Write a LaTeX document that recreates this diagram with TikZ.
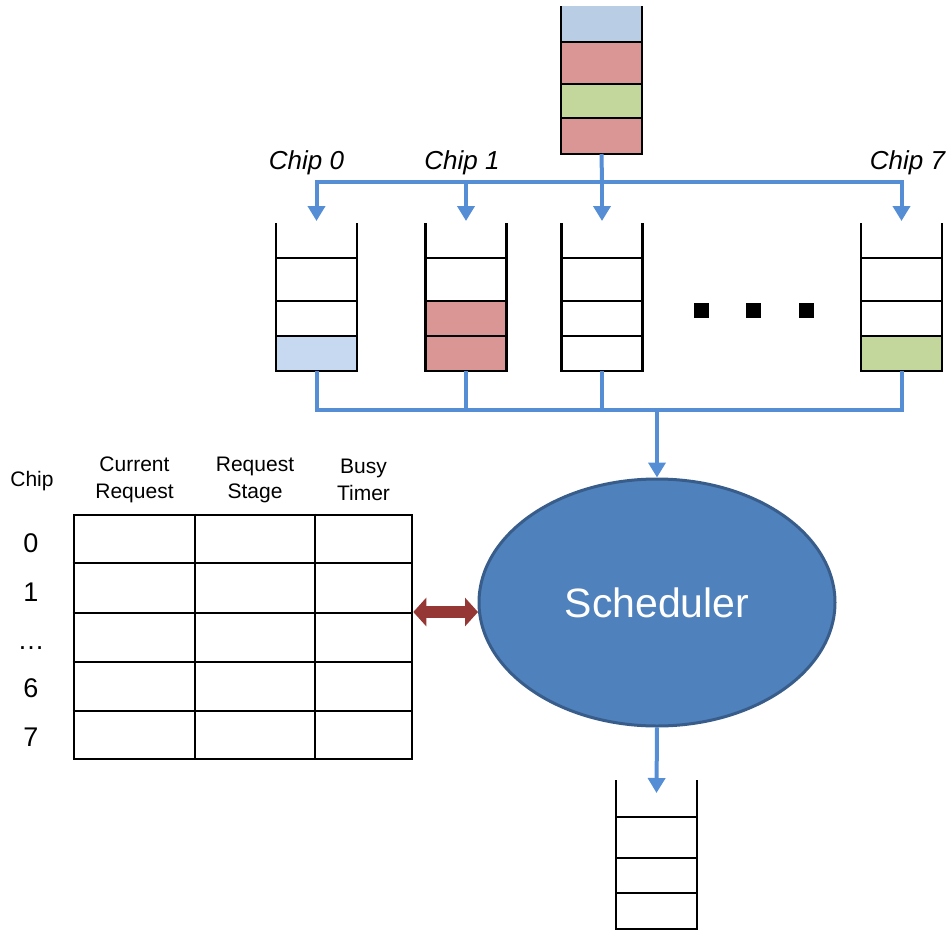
\documentclass[tikz,border=0pt]{standalone}
\usepackage{fontspec}
\setmainfont{Liberation Sans}
\usetikzlibrary{arrows.meta,shapes.geometric}
\definecolor{busblue}{HTML}{558ED5}
\definecolor{qblue}{HTML}{C6D9F1}
\definecolor{qbluetop}{HTML}{B9CDE5}
\definecolor{qred}{HTML}{D99694}
\definecolor{qgreen}{HTML}{C3D69B}
\definecolor{schedfill}{HTML}{4F81BD}
\definecolor{schededge}{HTML}{385D8A}
\definecolor{linkred}{HTML}{953735}
\tikzset{
  queuebox/.style={minimum width=81, minimum height=148, inner sep=0, outer sep=0},
  wall/.style={line width=2.6, black},
  bus/.style={line width=4, busblue},
  busarrow/.style={bus, -{Triangle[length=15,width=17]}, shorten >=2},
  dotsq/.style={fill=black, minimum size=15, inner sep=0},
  chiplabel/.style={font=\fontsize{26}{30}\selectfont\itshape, inner sep=0},
  hdr/.style={font=\fontsize{21}{27}\selectfont, align=center, inner sep=0},
  rowlbl/.style={font=\fontsize{27}{30}\selectfont, anchor=base, inner sep=0},
  grid/.style={line width=2.6, black},
}
\begin{document}
\begin{tikzpicture}[x=1pt, y=-1pt]
\useasboundingbox (0,0) rectangle (951,930);

% ---- incoming request queue ----
\node[queuebox] (src) at (601.5,80) {};
\fill[qbluetop] (561,6) rectangle (642,42);
\fill[qred]     (561,42) rectangle (642,84);
\fill[qgreen]   (561,84) rectangle (642,118);
\fill[qred]     (561,118) rectangle (642,154);
\draw[wall] (src.north west) -- (src.south west) -- (src.south east) -- (src.north east);
\foreach \yy in {42,84,118} \draw[wall] (src.west |- 0,\yy) -- (src.east |- 0,\yy);

% ---- per-chip queues ----
\node[queuebox] (q0) at (316.5,297) {};
\node[queuebox] (q1) at (466,297) {};
\node[queuebox] (q2) at (602,297) {};
\node[queuebox] (q7) at (901.5,297) {};
\fill[qblue]  (q0.west |- 0,336) rectangle (q0.south east);
\fill[qred]   (q1.west |- 0,301) rectangle (q1.south east);
\fill[qgreen] (q7.west |- 0,336) rectangle (q7.south east);
\foreach \q in {q0,q1,q2,q7}{
  \draw[wall] (\q.north west) -- (\q.south west) -- (\q.south east) -- (\q.north east);
  \foreach \yy in {258,301,336} \draw[wall] (\q.west |- 0,\yy) -- (\q.east |- 0,\yy);
}
\node[dotsq] (d1) at (701,310) {};
\node[dotsq] (d2) at (753,310) {};
\node[dotsq] (d3) at (806,310) {};

% chip labels
\node[chiplabel] (l0) at (306.5,163) {Chip 0};
\node[chiplabel] (l1) at (462,163) {Chip 1};
\node[chiplabel] (l7) at (907.5,163) {Chip 7};

% ---- distribution bus ----
\coordinate (busT) at (602,182);
\draw[bus] (src.south) -- (busT);
\draw[busarrow] (busT) -| (q0.north);
\draw[busarrow] (busT) -| (q7.north);
\draw[busarrow] (busT) -- (q2.north);
\draw[busarrow] (q1.north |- busT) -- (q1.north);

% ---- collection bus ----
\coordinate (busB) at (657,410);
\draw[bus] (q0.south) |- (busB) -| (q7.south);
\draw[bus] (q1.south) -- (q1.south |- busB);
\draw[bus] (q2.south) -- (q2.south |- busB);

% ---- scheduler ----
\node[ellipse, minimum width=356, minimum height=247, inner sep=0,
      fill=schedfill, draw=schededge, line width=3,
      text=white, font=\fontsize{41}{46}\selectfont] (sched) at (657,602.5) {Scheduler};
\draw[busarrow, shorten >=0] (busB) -- (sched.north);

% ---- output queue ----
\node[queuebox, minimum height=149] (out) at (656.5,854.5) {};
\draw[wall] (out.north west) -- (out.south west) -- (out.south east) -- (out.north east);
\foreach \yy in {817,858,893} \draw[wall] (out.west |- 0,\yy) -- (out.east |- 0,\yy);
\draw[busarrow, shorten >=0] (sched.south) -- ([yshift=-13]out.north);

% ---- chip state table ----
\node[draw, grid, minimum width=338, minimum height=244, inner sep=0] (tbl) at (243,637) {};
\foreach \xx in {195,315} \draw[grid] (\xx,0 |- tbl.north) -- (\xx,0 |- tbl.south);
\foreach \yy in {563,613,662,711} \draw[grid] (tbl.west |- 0,\yy) -- (tbl.east |- 0,\yy);

\node[hdr] (hchip) at (32,481) {Chip};
\node[hdr] (hcur) at (134.5,480) {Current\\Request};
\node[hdr] (hstage) at (255,480) {Request\\Stage};
\node[hdr] (hbusy) at (363.5,480) {Busy\\Timer};

\node[rowlbl] (r0) at (31,552) {0};
\node[rowlbl] (r1) at (31,601) {1};
\node[rowlbl] (r2) at (31,649) {…};
\node[rowlbl] (r6) at (31,697) {6};
\node[rowlbl] (r7) at (31,746) {7};

% ---- table <-> scheduler link ----
\coordinate (linkY) at (0,612);
\draw[linkred, line width=12,
      {Triangle[length=13,width=28]}-{Triangle[length=13,width=28]}]
  (tbl.east |- linkY) -- ([xshift=0.5]sched.west |- linkY);
\end{tikzpicture}
\end{document}
